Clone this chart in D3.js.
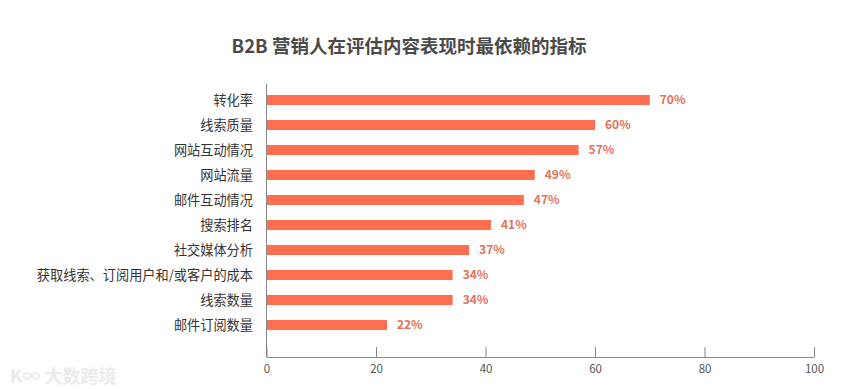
<!DOCTYPE html>
<html>
<head>
<meta charset="utf-8">
<script src="https://cdn.jsdelivr.net/npm/d3@7"></script>
<style>
  body { margin: 0; background: #fff; }
  svg { display: block; font-family: "Noto Sans CJK SC", "Noto Sans", sans-serif; }
</style>
</head>
<body>
<div id="chart"></div>
<script>
// chart data
const categories = ['转化率', '线索质量', '网站互动情况', '网站流量', '邮件互动情况',
  '搜索排名', '社交媒体分析', '获取线索、订阅用户和/或客户的成本', '线索数量', '邮件订阅数量'];
const values = [70, 60, 57, 49, 47, 41, 37, 34, 34, 22];
const xTicks = [0, 20, 40, 60, 80, 100];
const title = 'B2B 营销人在评估内容表现时最依赖的指标';

const width = 852, height = 389;

const svg = d3.select('#chart')
  .append('svg')
  .attr('width', width)
  .attr('height', height);

// faint watermark bottom-left
svg.append('text')
  .attr('x', 10)
  .attr('y', 383)
  .attr('font-size', 18)
  .attr('font-weight', 'bold')
  .attr('fill', '#ebebeb')
  .text('K∞ 大数跨境');

const x = d3.scaleLinear().domain([0, 100]).range([266.5, 814]);
const y = d3.scaleBand().domain(categories).range([87.5, 337.5])
  .paddingInner(0.6).paddingOuter(0.3);

svg.append('text')
  .attr('x', 409)
  .attr('y', 53)
  .attr('text-anchor', 'middle')
  .attr('font-size', 18.5)
  .attr('font-weight', 'bold')
  .attr('fill', '#4a4a4a')
  .text(title);

// bars
svg.append('g')
  .selectAll('rect')
  .data(values)
  .join('rect')
  .attr('x', x(0))
  .attr('y', (d, i) => y(categories[i]))
  .attr('width', d => x(d) - x(0))
  .attr('height', y.bandwidth())
  .attr('fill', '#ff6e50');

// value labels
svg.append('g')
  .selectAll('text')
  .data(values)
  .join('text')
  .attr('x', d => x(d) + 10)
  .attr('y', (d, i) => y(categories[i]) + y.bandwidth() / 2)
  .attr('dy', '0.36em')
  .attr('font-size', 12)
  .attr('font-weight', 'bold')
  .attr('fill', '#e2725a')
  .text(d => d + '%');

// category labels
svg.append('g')
  .selectAll('text')
  .data(categories)
  .join('text')
  .attr('x', 253)
  .attr('y', d => y(d) + y.bandwidth() / 2)
  .attr('dy', '0.36em')
  .attr('text-anchor', 'end')
  .attr('font-size', 13.2)
  .attr('fill', '#333')
  .text(d => d);

// axes
const xAxis = svg.append('g')
  .attr('transform', 'translate(0,357)')
  .call(d3.axisBottom(x).tickValues(xTicks).tickSizeInner(-10).tickSizeOuter(0).tickPadding(8));
xAxis.select('.domain').attr('stroke', '#888');
xAxis.selectAll('.tick line').attr('stroke', '#888');
xAxis.selectAll('.tick text')
  .attr('font-size', 11.5)
  .attr('fill', '#555')
  .attr('font-family', '"Noto Sans CJK SC", sans-serif');

svg.append('line')
  .attr('x1', x(0)).attr('x2', x(0))
  .attr('y1', 84).attr('y2', 357)
  .attr('stroke', '#888');
</script>
</body>
</html>
